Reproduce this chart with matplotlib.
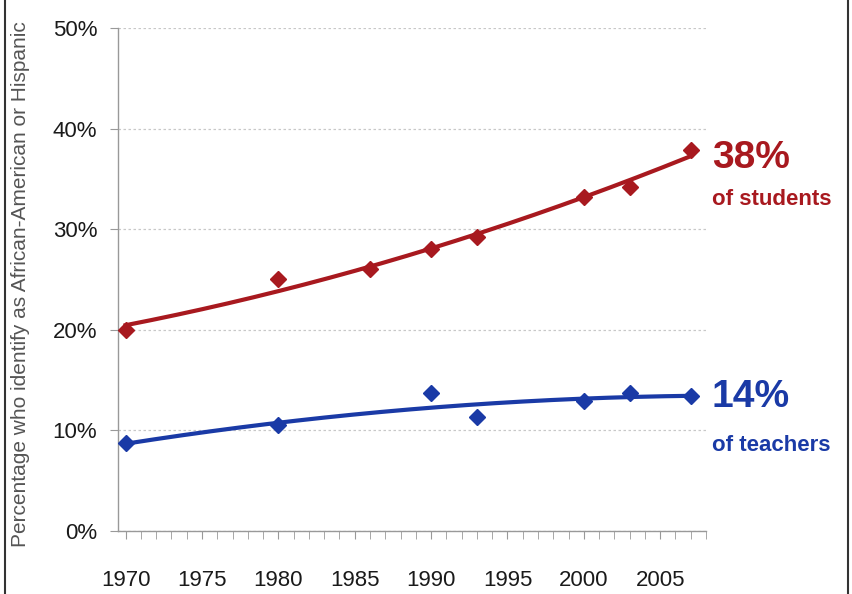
import numpy as np
import matplotlib
matplotlib.use("Agg")
import matplotlib.pyplot as plt
from matplotlib.ticker import MultipleLocator, FuncFormatter
from matplotlib.patches import Rectangle

# Data
student_years = [1970, 1980, 1986, 1990, 1993, 2000, 2003, 2007]
student_pct = [20.0, 25.0, 26.0, 28.0, 29.2, 33.2, 34.2, 37.9]
teacher_years = [1970, 1980, 1990, 1993, 2000, 2003, 2007]
teacher_pct = [8.7, 10.5, 13.7, 11.3, 12.9, 13.7, 13.4]
year_ticks = [1970, 1975, 1980, 1985, 1990, 1995, 2000, 2005]

RED = '#a8191f'
BLUE = '#1a3aa6'
narrow = ['Liberation Sans Narrow', 'Liberation Sans', 'DejaVu Sans']

fig = plt.figure(figsize=(8.53, 5.94), dpi=100)
ax = fig.add_axes([0.1383, 0.106, 0.6894, 0.847])

# trend lines (2nd-order fit, like a spreadsheet trendline)
xs = np.linspace(1970, 2007, 200)
red_fit = np.polyfit(student_years, student_pct, 2)
blue_fit = np.polyfit(teacher_years, teacher_pct, 2)
ax.plot(xs, np.polyval(red_fit, xs), color=RED, lw=3, zorder=3)
ax.plot(xs, np.polyval(blue_fit, xs), color=BLUE, lw=3, zorder=3)
ax.plot(student_years, student_pct, 'D', color=RED, ms=8, zorder=4)
ax.plot(teacher_years, teacher_pct, 'D', color=BLUE, ms=8, zorder=4)

ax.set_xlim(1969.5, 2008)
ax.set_ylim(0, 50)
ax.yaxis.set_major_locator(MultipleLocator(10))
ax.yaxis.set_major_formatter(FuncFormatter(lambda v, p: f'{v:.0f}%'))
ax.set_xticks(year_ticks)
ax.xaxis.set_minor_locator(MultipleLocator(1))
ax.grid(axis='y', color='#c8c8c8', ls=(0, (2, 2)), lw=0.9)
ax.set_axisbelow(True)

for s in ['top', 'right']:
    ax.spines[s].set_visible(False)
for s in ['left', 'bottom']:
    ax.spines[s].set_color('#999999')
    ax.spines[s].set_linewidth(1.0)

ax.tick_params(axis='x', which='both', direction='out', length=6, color='#999999', pad=22)
ax.tick_params(axis='y', length=6, color='#999999', pad=9)
for lab in ax.get_xticklabels() + ax.get_yticklabels():
    lab.set_family(narrow)
    lab.set_fontsize(16)
    lab.set_color('#1a1a1a')

ax.set_ylabel('Percentage who identify as African-American or Hispanic',
              fontsize=15, color='#555555', family=narrow)
ax.yaxis.set_label_coords(-0.15, 0.49)

# end labels
ax.text(1.01, 37.1 / 50, '38%', transform=ax.transAxes, color=RED,
        fontsize=28, fontweight='bold', family=narrow, va='center', ha='left')
ax.text(1.01, 32.9 / 50, 'of students', transform=ax.transAxes, color=RED,
        fontsize=16, fontweight='bold', family=narrow, va='center', ha='left')
ax.text(1.01, 13.3 / 50, '14%', transform=ax.transAxes, color=BLUE,
        fontsize=28, fontweight='bold', family=narrow, va='center', ha='left')
ax.text(1.01, 8.5 / 50, 'of teachers', transform=ax.transAxes, color=BLUE,
        fontsize=16, fontweight='bold', family=narrow, va='center', ha='left')

# outer frame
fig.patches.append(Rectangle((0.006, -0.01), 0.988, 1.02, transform=fig.transFigure,
                             fill=False, edgecolor='#333333', lw=1.5))

fig.savefig('out.png', dpi=100)
